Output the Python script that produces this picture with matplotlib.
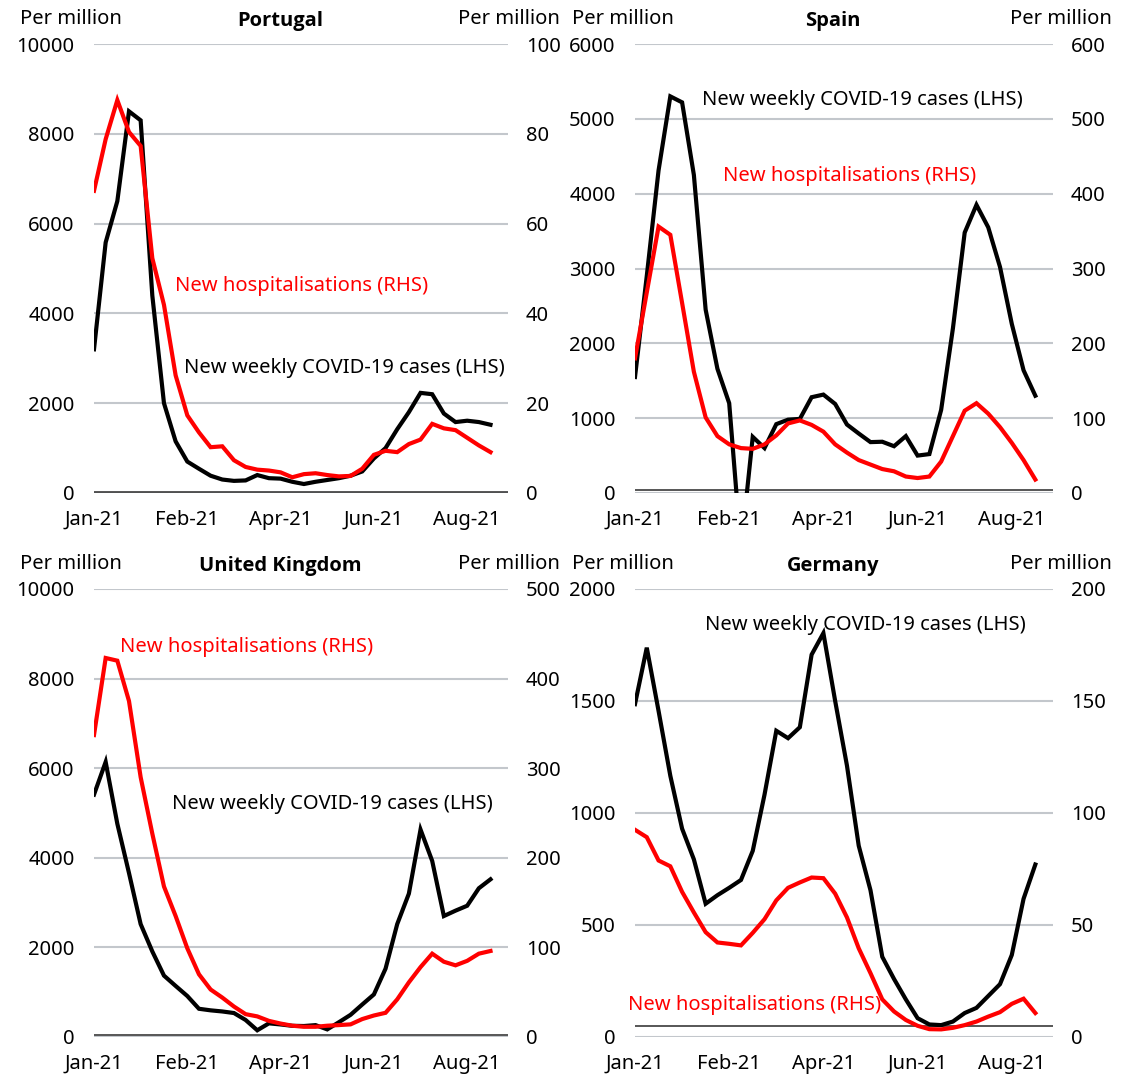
import matplotlib.pyplot as plt
import numpy as np

plt.rcParams['font.family'] = ['Noto Sans', 'DejaVu Sans']

# Etiquetas del eje x (datos semanales, una etiqueta cada 8 semanas)
x_etiquetas = ['Jan-21', 'Feb-21', 'Apr-21', 'Jun-21', 'Aug-21']
x_ticks = [0, 8, 16, 24, 32]

# Portugal
pt_casos = [3200, 5580, 6500, 8500, 8300, 4400, 2000, 1150, 700, 540, 385, 300,
            270, 280, 400, 330, 320, 250, 200, 250, 290, 330, 385, 480, 770, 1000,
            1420, 1800, 2230, 2200, 1770, 1580, 1610, 1580, 1520]
pt_hosp = [67.3, 78.8, 87.5, 80.4, 77.3, 52.3, 41.9, 26.2, 17.3, 13.5, 10.2, 10.4,
           7.3, 5.8, 5.2, 5.0, 4.6, 3.5, 4.2, 4.4, 4.0, 3.7, 3.8, 5.4, 8.5, 9.4,
           9.1, 10.9, 11.9, 15.4, 14.4, 14.0, 12.3, 10.6, 9.1]

# España
es_casos = [1550, 2900, 4310, 5300, 5220, 4250, 2450, 1660, 1200, -750, 750, 600,
            920, 980, 990, 1280, 1315, 1190, 915, 795, 680, 685, 625, 760, 500, 520,
            1110, 2200, 3480, 3850, 3550, 3020, 2260, 1640, 1300]
es_hosp = [180, 268, 356, 345, 254, 162, 101, 76, 65, 60, 59, 65, 77, 93, 97, 91,
           82, 65, 54, 44, 38, 32, 29, 22, 20, 22, 42, 76, 110, 120, 106, 88, 67,
           44, 18]

# Reino Unido
uk_casos = [5410, 6140, 4760, 3660, 2520, 1910, 1370, 1140, 915, 630, 595, 570,
            535, 380, 150, 305, 280, 250, 245, 265, 170, 330, 495, 725, 950, 1525,
            2520, 3200, 4630, 3930, 2700, 2820, 2930, 3320, 3520]
uk_hosp = [337, 423, 420, 375, 290, 227, 168, 135, 99, 70, 53, 44, 34, 25.5, 23,
           18, 15, 12.6, 11.4, 11.4, 12.6, 13.3, 14.1, 20, 24, 27, 42, 61, 78, 93,
           84, 80, 85, 93, 96]

# Alemania
de_casos = [1486, 1738, 1456, 1166, 930, 793, 595, 633, 666, 701, 831, 1082, 1367,
            1334, 1383, 1707, 1803, 1500, 1212, 854, 655, 358, 259, 168, 84, 56,
            53, 69, 107, 130, 183, 236, 366, 617, 770]
de_hosp = [92.5, 89.2, 78.8, 76.2, 64.8, 55.6, 46.8, 42.2, 41.6, 40.9, 46.5, 52.6,
           61, 66.6, 69, 71.2, 70.9, 64, 53.4, 39.6, 28.5, 16.8, 11.4, 7.6, 5.0, 3.5,
           3.4, 4.1, 5.3, 6.9, 9.1, 11.1, 14.8, 17.1, 10.7]

W, H = 1131, 1076
fig = plt.figure(figsize=(W / 100, H / 100), dpi=100)

FS = 14.5
ROJO = '#ff0000'


def fx(px):
    return px / W


def fy(py):
    return 1 - py / H


# Dibuja un panel con dos ejes (casos a la izquierda, hospitalizaciones a la derecha)
def panel(caja, titulo, x_titulo, casos, hosp, lim_izq, paso_izq, lim_der, paso_der, eje_linea):
    x0, y0, x1, y1 = caja
    ax = fig.add_axes([fx(x0), fy(y1), fx(x1 - x0), (y1 - y0) / H])
    ax2 = ax.twinx()
    x = np.arange(len(casos))

    ax.set_ylim(0, lim_izq)
    ax.set_yticks(np.arange(0, lim_izq + 1, paso_izq))
    ax2.set_ylim(0, lim_der)
    ax2.set_yticks(np.arange(0, lim_der + 1, paso_der))
    ax.set_xlim(0, 35.5)
    ax.set_xticks(x_ticks)
    ax.set_xticklabels(x_etiquetas)

    ax.grid(axis='y', color='#c3c7cc', lw=1.5)
    ax.set_axisbelow(True)
    ax.axhline(eje_linea, color='#3a3a3a', lw=1.2, zorder=1)

    ax.plot(x, casos, color='black', lw=3, solid_joinstyle='miter', zorder=3)
    ax2.plot(x, hosp, color=ROJO, lw=3, solid_joinstyle='miter')

    for a in (ax, ax2):
        for s in a.spines.values():
            s.set_visible(False)
    ax.tick_params(axis='y', length=0, pad=14, labelsize=FS)
    ax2.tick_params(axis='y', length=0, pad=13, labelsize=FS)
    ax.tick_params(axis='x', length=0, pad=12, labelsize=FS)

    # Titulo del panel
    fig.text(fx(x_titulo), fy(y0 - 23), titulo, ha='center', va='center',
             fontsize=FS, fontweight='bold', family=['Open Sans', 'DejaVu Sans'])
    return ax, ax2


panel((94, 44, 508, 493), 'Portugal', 280, pt_casos, pt_hosp, 10000, 2000, 100, 20, 30)
panel((635, 44, 1053, 493), 'Spain', 833, es_casos, es_hosp, 6000, 1000, 600, 100, 40)
panel((94, 589, 508, 1037), 'United Kingdom', 280, uk_casos, uk_hosp, 10000, 2000, 500, 100, 45)
panel((635, 589, 1053, 1037), 'Germany', 833, de_casos, de_hosp, 2000, 500, 200, 50, 49)

# "Per million" sobre cada eje
for xl, xr, yy in [(20, 560, 19), (572, 1112, 19), (20, 560, 564), (572, 1112, 564)]:
    fig.text(fx(xl), fy(yy), 'Per million', ha='left', va='center', fontsize=FS)
    fig.text(fx(xr), fy(yy), 'Per million', ha='right', va='center', fontsize=FS)

# Etiquetas de las series
etiquetas = [
    (175, 286, 'New hospitalisations (RHS)', ROJO),
    (184, 368, 'New weekly COVID-19 cases (LHS)', 'black'),
    (702, 100, 'New weekly COVID-19 cases (LHS)', 'black'),
    (723, 176, 'New hospitalisations (RHS)', ROJO),
    (120, 647, 'New hospitalisations (RHS)', ROJO),
    (172, 804, 'New weekly COVID-19 cases (LHS)', 'black'),
    (705, 625, 'New weekly COVID-19 cases (LHS)', 'black'),
    (628, 1005, 'New hospitalisations (RHS)', ROJO),
]
for xx, yy, txt, col in etiquetas:
    fig.text(fx(xx), fy(yy), txt, ha='left', va='center', fontsize=FS, color=col)

fig.savefig('out.png', dpi=100)
